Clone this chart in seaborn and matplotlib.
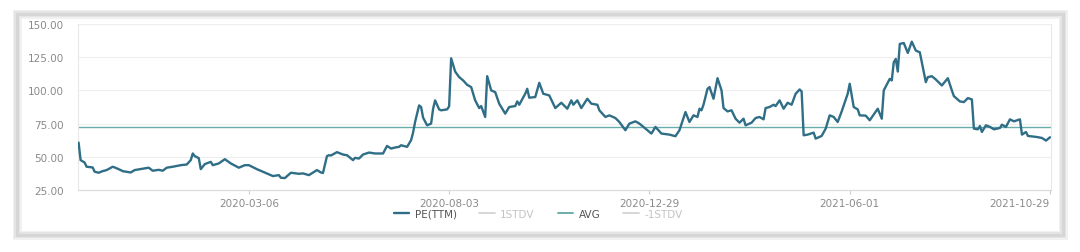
import matplotlib
matplotlib.use("Agg")
import matplotlib.pyplot as plt
import seaborn as sns
import pandas as pd
from matplotlib.lines import Line2D
from matplotlib.patches import Rectangle

# ---- data (trading-day index, PE(TTM) value) ----
day_idx = [0, 1, 3, 4, 7, 8, 10, 12, 14, 17, 18, 21, 22, 26, 28, 31, 35, 37, 40, 42,
           44, 47, 51, 54, 56, 57, 58, 60, 61, 63, 66, 67, 70, 73, 76, 80, 83, 85, 89, 94,
           97, 100, 101, 103, 106, 110, 112, 115, 119, 121, 122, 124, 125, 126, 129, 132, 134, 137, 138, 140,
           142, 145, 148, 152, 154, 156, 158, 160, 161, 164, 166, 167, 168, 170, 171, 172, 174, 176, 177, 178,
           180, 181, 184, 185, 186, 188, 190, 192, 194, 196, 198, 200, 201, 203, 204, 206, 208, 210, 213, 215,
           218, 219, 220, 223, 224, 225, 228, 230, 232, 235, 238, 241, 244, 246, 247, 249, 251, 254, 256, 259,
           260, 263, 265, 268, 270, 273, 275, 278, 280, 282, 286, 288, 291, 295, 298, 300, 303, 305, 307, 309,
           310, 311, 312, 314, 315, 317, 319, 321, 322, 324, 326, 328, 330, 332, 333, 336, 338, 340, 342, 343,
           345, 347, 348, 350, 352, 354, 356, 358, 360, 361, 362, 364, 367, 368, 371, 373, 375, 377, 379, 381,
           384, 385, 387, 389, 390, 393, 395, 399, 401, 402, 405, 406, 407, 408, 409, 410, 412, 414, 416, 418,
           420, 423, 424, 426, 428, 431, 434, 436, 437, 440, 442, 444, 446, 447, 449, 450, 451, 453, 455, 457,
           460, 461, 463, 465, 467, 470, 471, 473, 474, 478, 481, 483, 485]
pe_ttm = [60.7, 47.5, 45.7, 42.5, 42.0, 38.8, 38.0, 39.2, 40.0, 42.5, 42.0, 40.0, 39.2, 38.2, 40.0, 40.8, 41.8, 39.5, 40.2, 39.5,
          41.8, 42.5, 43.7, 44.2, 47.5, 52.5, 50.5, 49.0, 40.7, 44.5, 46.2, 43.7, 45.0, 48.2, 45.0, 41.8, 43.7, 43.7, 40.7, 37.5,
          35.5, 36.2, 34.2, 34.0, 38.0, 37.2, 37.5, 36.2, 40.0, 38.2, 37.8, 50.5, 51.2, 51.0, 53.5, 51.7, 51.2, 47.5, 49.2, 48.7,
          51.7, 53.2, 52.5, 52.5, 58.2, 56.2, 57.0, 57.5, 58.7, 57.5, 62.5, 68.2, 76.2, 88.7, 87.5, 79.5, 73.7, 75.0, 86.2, 92.5,
          85.7, 85.0, 85.7, 88.0, 124.2, 114.2, 110.0, 107.5, 104.2, 102.5, 92.5, 86.7, 88.2, 80.0, 110.7, 100.0, 98.7, 90.0, 82.5, 87.5,
          88.2, 91.7, 89.2, 97.5, 101.2, 94.5, 95.0, 105.7, 97.5, 96.2, 86.7, 90.7, 86.2, 92.5, 89.2, 92.5, 86.7, 93.7, 90.0, 89.2,
          85.0, 80.0, 81.2, 79.2, 76.2, 70.0, 75.0, 76.7, 75.0, 72.5, 67.5, 72.5, 67.5, 66.7, 65.5, 70.0, 83.7, 76.2, 81.2, 80.0,
          86.2, 85.0, 89.2, 101.2, 102.5, 93.7, 109.2, 100.0, 86.7, 84.2, 85.0, 78.7, 75.7, 78.7, 73.7, 75.7, 79.2, 80.0, 78.2, 86.7,
          87.5, 89.2, 88.2, 92.5, 86.2, 90.7, 89.2, 97.5, 100.7, 99.2, 66.2, 66.7, 68.2, 63.7, 65.7, 71.2, 81.2, 80.0, 76.2, 84.2,
          97.5, 105.0, 87.5, 85.7, 81.2, 81.0, 77.5, 86.2, 78.7, 100.0, 108.7, 107.5, 121.2, 123.7, 114.2, 135.0, 135.7, 128.2, 136.7, 130.0,
          128.7, 106.2, 110.0, 110.7, 108.2, 103.7, 109.2, 100.0, 95.7, 91.7, 91.2, 94.2, 93.2, 71.2, 70.7, 73.2, 68.7, 73.7, 72.5, 70.7,
          71.7, 74.2, 72.5, 78.2, 76.7, 78.2, 66.7, 68.7, 65.7, 65.0, 64.2, 62.2, 64.7]
avg_value = 72.5
x_tick_idx = [85, 185, 285, 385, 485]
x_tick_labels = ["2020-03-06", "2020-08-03", "2020-12-29", "2021-06-01", "2021-10-29"]
y_ticks = [25, 50, 75, 100, 125, 150]
legend_labels = ["PE(TTM)", "1STDV", "AVG", "-1STDV"]

df = pd.DataFrame({"idx": day_idx, "pe": pe_ttm})

sns.set_theme(style="white")
plt.rcParams["font.family"] = ["DejaVu Sans"]

fig = plt.figure(figsize=(10.8, 2.53), dpi=100)
fig.patch.set_facecolor("white")

# card frame with soft shadow
W, H = 1080, 253
for lw, col in [(9, "#f1f1f1"), (6, "#e4e4e4"), (3, "#d6d6d6")]:
    fig.add_artist(Rectangle((17 / W, 1 - 236 / H), (1063 - 17) / W, (236 - 15) / H,
                             transform=fig.transFigure, fill=False, edgecolor=col,
                             linewidth=lw * 0.72))

ax = fig.add_axes([78 / W, 1 - 191 / H, (1051 - 78) / W, (191 - 25) / H])
ax.set_facecolor("white")

LINE_C = "#2f6e86"
AVG_C = "#6aaeab"
GRAY_C = "#cfcfcf"

ax.axhline(avg_value, color=AVG_C, lw=1.0, zorder=2)
sns.lineplot(data=df, x="idx", y="pe", ax=ax, color=LINE_C, lw=1.7, zorder=3, legend=False)

ax.set_xlim(-0.3, 485.5)
ax.set_ylim(25, 150)
ax.set_yticks(y_ticks)
ax.set_yticklabels([f"{v:.2f}" for v in y_ticks])
ax.set_xticks(x_tick_idx)
ax.set_xticklabels(x_tick_labels)
ax.get_xticklabels()[-1].set_horizontalalignment("right")
ax.set_xlabel("")
ax.set_ylabel("")
ax.grid(axis="y", color="#eeeeee", lw=0.8)
ax.grid(axis="x", visible=False)

for s in ["left", "right", "top"]:
    ax.spines[s].set_color("#e8e8e8")
    ax.spines[s].set_linewidth(0.8)
ax.spines["top"].set_visible(False)
ax.spines["bottom"].set_color("#dcdcdc")
ax.spines["bottom"].set_linewidth(0.9)

ax.tick_params(axis="y", length=0, pad=10, labelsize=7.5, labelcolor="#8a8a8a")
ax.tick_params(axis="x", length=3, width=0.8, color="#cccccc", pad=3,
               labelsize=7.5, labelcolor="#8a8a8a", bottom=True)

handles = [Line2D([0], [0], color=LINE_C, lw=1.7),
           Line2D([0], [0], color=GRAY_C, lw=1.2),
           Line2D([0], [0], color=AVG_C, lw=1.4),
           Line2D([0], [0], color=GRAY_C, lw=1.2)]
leg = fig.legend(handles, legend_labels, loc="center", bbox_to_anchor=(538 / W, 1 - 215 / H),
                 ncol=4, frameon=False, fontsize=7.5, handlelength=1.5, handletextpad=0.5,
                 columnspacing=2.2)
for t, c in zip(leg.get_texts(), ["#555555", "#c4c4c4", "#555555", "#c4c4c4"]):
    t.set_color(c)

fig.savefig("out.png", dpi=100, facecolor="white")
